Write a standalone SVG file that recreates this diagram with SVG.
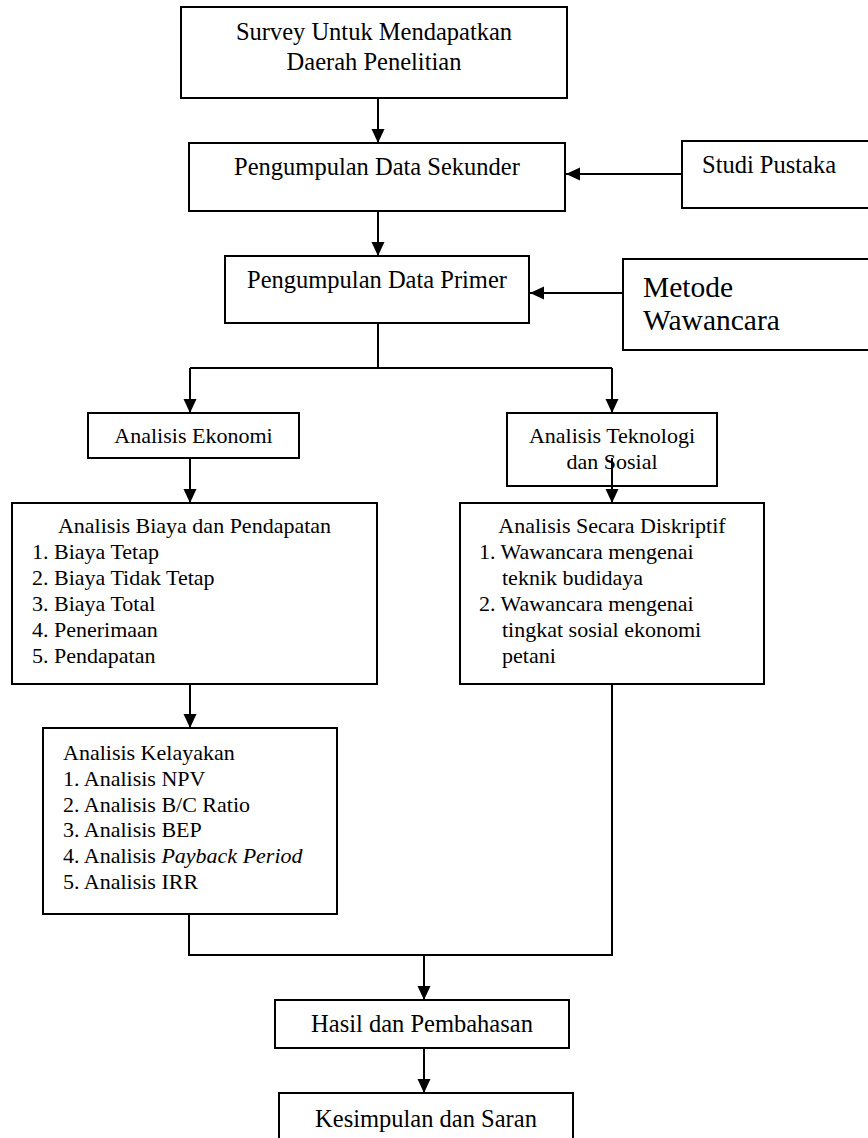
<svg xmlns="http://www.w3.org/2000/svg" width="868" height="1138" viewBox="0 0 868 1138">
<style>
  .box { fill: #fff; stroke: #000; stroke-width: 2; }
  .ln { fill: none; stroke: #000; stroke-width: 2; }
  .arr { marker-end: url(#ah); }
  text { font-family: "Liberation Serif", "Times New Roman", serif; fill: #000; }
  .t25 { font-size: 24.5px; }
  .t22 { font-size: 22px; }
  .t30 { font-size: 29.5px; }
  .c { text-anchor: middle; }
</style>
<defs>
  <marker id="ah" markerUnits="userSpaceOnUse" markerWidth="15" markerHeight="14" refX="14" refY="6.5" orient="auto">
    <path d="M0,0 L14,6.5 L0,13 Z" fill="#000"/>
  </marker>
</defs>
<rect width="868" height="1138" fill="#fff"/>

<g id="connectors">
  <line class="ln arr" x1="378" y1="98" x2="378" y2="143"/>
  <line class="ln arr" x1="681" y1="174" x2="566" y2="174"/>
  <line class="ln arr" x1="378" y1="211" x2="378" y2="256"/>
  <line class="ln arr" x1="623" y1="293" x2="530" y2="293"/>
  <polyline class="ln" points="378,323 378,368"/>
  <polyline class="ln" points="190,368 612,368"/>
  <line class="ln arr" x1="190" y1="368" x2="190" y2="413"/>
  <line class="ln arr" x1="612" y1="368" x2="612" y2="413"/>
  <line class="ln arr" x1="190" y1="458" x2="190" y2="503"/>
  <line class="ln arr" x1="190" y1="684" x2="190" y2="728"/>
  <polyline class="ln" points="189,914 189,955 612,955 612,684"/>
  <line class="ln arr" x1="424" y1="954" x2="424" y2="1000"/>
  <line class="ln arr" x1="424" y1="1048" x2="424" y2="1093"/>
</g>

<g id="survey">
  <rect class="box" x="181" y="7" width="386" height="91"/>
  <text class="t25 c" x="374" y="40">Survey Untuk Mendapatkan</text>
  <text class="t25 c" x="374" y="70">Daerah Penelitian</text>
</g>

<g id="sekunder">
  <rect class="box" x="189" y="143" width="376" height="68"/>
  <text class="t25 c" x="377" y="175">Pengumpulan Data Sekunder</text>
</g>

<g id="studi-pustaka">
  <rect class="box" x="682" y="141" width="200" height="67"/>
  <text class="t25" x="702" y="173">Studi Pustaka</text>
</g>

<g id="primer">
  <rect class="box" x="225" y="256" width="304" height="67"/>
  <text class="t25 c" x="377" y="288">Pengumpulan Data Primer</text>
</g>

<g id="metode-wawancara">
  <rect class="box" x="623" y="259" width="260" height="91"/>
  <text class="t30" x="643" y="297">Metode</text>
  <text class="t30" x="643" y="330">Wawancara</text>
</g>

<g id="analisis-ekonomi">
  <rect class="box" x="88" y="413" width="211" height="45"/>
  <text class="t22 c" x="193.5" y="443">Analisis Ekonomi</text>
</g>

<g id="analisis-teknologi">
  <rect class="box" x="507" y="413" width="210" height="73"/>
  <text class="t22 c" x="612" y="443">Analisis Teknologi</text>
  <text class="t22 c" x="612" y="469">dan Sosial</text>
</g>
<line class="ln arr" x1="612" y1="458" x2="612" y2="503"/>

<g id="biaya-pendapatan">
  <rect class="box" x="12" y="503" width="365" height="181"/>
  <text class="t22 c" x="194.5" y="533">Analisis Biaya dan Pendapatan</text>
  <text class="t22" x="32" y="559">1. Biaya Tetap</text>
  <text class="t22" x="32" y="585">2. Biaya Tidak Tetap</text>
  <text class="t22" x="32" y="611">3. Biaya Total</text>
  <text class="t22" x="32" y="637">4. Penerimaan</text>
  <text class="t22" x="32" y="663">5. Pendapatan</text>
</g>

<g id="diskriptif">
  <rect class="box" x="460" y="503" width="304" height="181"/>
  <text class="t22 c" x="612" y="533">Analisis Secara Diskriptif</text>
  <text class="t22" x="479" y="559">1. Wawancara mengenai</text>
  <text class="t22" x="502" y="585">teknik budidaya</text>
  <text class="t22" x="479" y="611">2. Wawancara mengenai</text>
  <text class="t22" x="502" y="637">tingkat sosial ekonomi</text>
  <text class="t22" x="502" y="663">petani</text>
</g>

<g id="kelayakan">
  <rect class="box" x="43" y="728" width="294" height="186"/>
  <text class="t22" x="63" y="760">Analisis Kelayakan</text>
  <text class="t22" x="63" y="786">1. Analisis NPV</text>
  <text class="t22" x="63" y="812">2. Analisis B/C Ratio</text>
  <text class="t22" x="63" y="837">3. Analisis BEP</text>
  <text class="t22" x="63" y="863">4. Analisis <tspan font-style="italic">Payback Period</tspan></text>
  <text class="t22" x="63" y="889">5. Analisis IRR</text>
</g>

<g id="hasil">
  <rect class="box" x="275" y="1000" width="294" height="48"/>
  <text class="t25 c" x="422" y="1032">Hasil dan Pembahasan</text>
</g>

<g id="kesimpulan">
  <rect class="box" x="279" y="1093" width="294" height="60"/>
  <text class="t25 c" x="426" y="1127">Kesimpulan dan Saran</text>
</g>
</svg>
